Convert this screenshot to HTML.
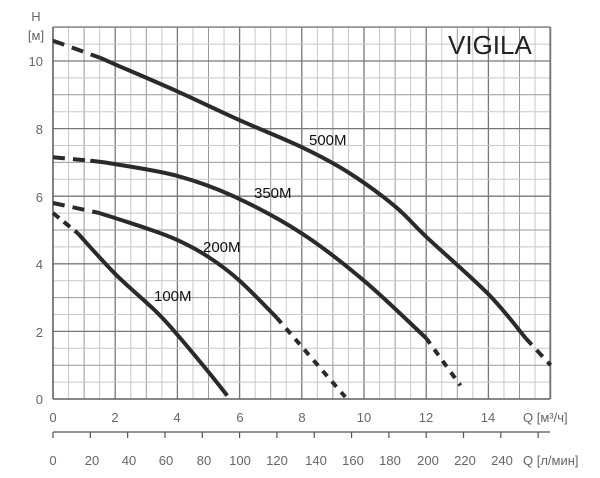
<!DOCTYPE html>
<html><head><meta charset="utf-8"><style>
html,body{margin:0;padding:0;background:#fff}
svg{display:block}
text{font-family:"Liberation Sans",sans-serif}
</style></head><body>
<svg id="s" width="600" height="478" viewBox="0 0 600 478" xmlns="http://www.w3.org/2000/svg">
<g id="grid" stroke-width="1"></g>
<g id="curves" fill="none" stroke="#2a2a2a" stroke-width="4" stroke-linejoin="round" stroke-linecap="butt"></g>
<g font-size="15" fill="#111">
<text x="309" y="145">500M</text><text x="254" y="198">350M</text>
<text x="203" y="252">200M</text><text x="154" y="301">100M</text>
</g>
<text x="448" y="54" font-size="26" fill="#222">VIGILA</text>
<g font-size="13" fill="#666" text-anchor="end">
<text x="43" y="66">10</text><text x="43" y="134">8</text><text x="43" y="202">6</text>
<text x="43" y="269">4</text><text x="43" y="337">2</text><text x="43" y="404">0</text>
</g>
<text x="36" y="21" font-size="13" fill="#666" text-anchor="middle">H</text>
<text x="36" y="40" font-size="13" fill="#666" text-anchor="middle">[м]</text>
<g font-size="13" fill="#666" text-anchor="middle">
<text x="53" y="422">0</text><text x="115" y="422">2</text><text x="177" y="422">4</text><text x="240" y="422">6</text>
<text x="302" y="422">8</text><text x="364" y="422">10</text><text x="426" y="422">12</text><text x="488" y="422">14</text>
<text x="53" y="465">0</text><text x="92" y="465">20</text><text x="129" y="465">40</text><text x="166" y="465">60</text>
<text x="204" y="465">80</text><text x="240" y="465">100</text><text x="277" y="465">120</text><text x="316" y="465">140</text>
<text x="353" y="465">160</text><text x="390" y="465">180</text><text x="428" y="465">200</text><text x="465" y="465">220</text>
<text x="502" y="465">240</text>
</g>
<text x="523" y="422" font-size="13" fill="#666">Q [м³/ч]</text>
<text x="523" y="465" font-size="13" fill="#666">Q [л/мин]</text>
</svg>
<script>
var g=document.getElementById('grid'),ns='http://www.w3.org/2000/svg';
function L(x1,y1,x2,y2,c,w){var l=document.createElementNS(ns,'line');l.setAttribute('x1',x1);l.setAttribute('y1',y1);l.setAttribute('x2',x2);l.setAttribute('y2',y2);l.setAttribute('stroke',c);l.setAttribute('stroke-width',w||1);g.appendChild(l);}
for(var i=0;i<=32;i++){var x=53+i*15.55;L(x,27,x,399,i%4==0?'#777':(i%2==0?'#999':'#c8c8c8'),i%4==0?1.3:1);}
for(var j=0;j<=22;j++){var y=399-j*16.9;L(53,y,550,y,j%4==0?'#777':(j%2==0?'#999':'#c8c8c8'),j%4==0?1.3:1);}
L(53,27,550,27,'#777',1.3);L(550,27,550,399,'#777',1.3);
L(53,399,550,399,'#555',1.3);L(53,27,53,399,'#555',1.3);
L(53,432,550,432,'#555',1.2);
for(var k=0;k<=13;k++){var x2=53+k*1.2*31.1;L(x2,432,x2,438,'#555',1.2);}
var c=document.getElementById('curves');
function P(pts,dash){var d='M'+pts[0][0]+','+pts[0][1];
for(var i=0;i<pts.length-1;i++){var p0=pts[i-1]||pts[i],p1=pts[i],p2=pts[i+1],p3=pts[i+2]||p2;
d+=' C'+(p1[0]+(p2[0]-p0[0])/6)+','+(p1[1]+(p2[1]-p0[1])/6)+' '+(p2[0]-(p3[0]-p1[0])/6)+','+(p2[1]-(p3[1]-p1[1])/6)+' '+p2[0]+','+p2[1];}
var p=document.createElementNS(ns,'path');p.setAttribute('d',d);if(dash)p.setAttribute('stroke-dasharray',dash);c.appendChild(p);}
P([[53,40.7],[99.7,57.6]],'12,8');
P([[99.7,57.6],[115.2,64.4],[177.4,91.4],[239.6,120.2],[301.8,147.2],[348.5,172.5],[395,206.3],[426.2,236.8],[488.4,294.2],[525.7,338.2]]);
P([[525.7,338.2],[550.6,365.2]],'9,7');
P([[53,157.3],[90.3,160.7]],'12,8');
P([[90.3,160.7],[115.2,164.1],[177.4,175.9],[233.4,196.2],[301.8,233.4],[364,280.7],[426.2,338.2]]);
P([[426.2,338.2],[460.4,385.5]],'7,7');
P([[53,203],[99.7,213.1]],'12,8');
P([[99.7,213.1],[146.3,228.3],[177.4,240.1],[208.5,257],[239.6,280.7],[276.9,317.9]]);
P([[276.9,317.9],[345.3,397]],'7,7');
P([[53,213],[77.9,233.4]],'8,6');
P([[77.9,233.4],[115.2,273.9],[155.6,311.1],[177.4,334.8],[208.5,372],[227.2,395.6]]);
</script>
</body></html>
